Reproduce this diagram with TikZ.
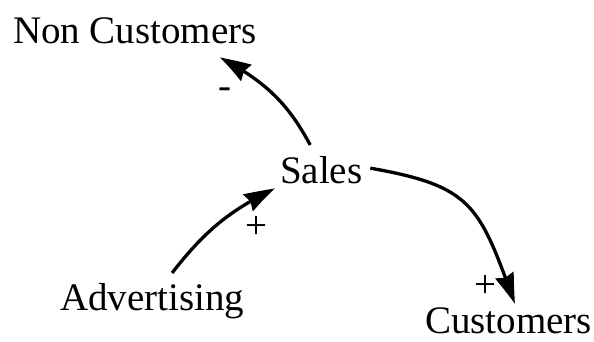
\documentclass[tikz,border=0pt]{standalone}
\usepackage{fontspec}
\setmainfont{Liberation Serif}
\usetikzlibrary{arrows.meta,bending}
\begin{document}
\begin{tikzpicture}[x=1pt,y=1pt,
  lbl/.style={inner sep=0pt, outer sep=0pt, anchor=base west, font=\fontsize{39}{46}\selectfont},
  sign/.style={inner sep=0pt, outer sep=0pt, font=\fontsize{39}{46}\selectfont},
  link/.style={line width=3.3pt, -{Stealth[length=32pt,width=19pt,inset=3pt,bend]}}]
\useasboundingbox (0,0) rectangle (594,341);

% variables
\node[lbl] (non)   at (13,298) {Non Customers};
\node[lbl] (sales) at (280,158) {Sales};
\node[lbl] (adv)   at (60,31)   {Advertising};
\node[lbl] (cust)  at (425,8)   {Customers};

% causal links
\draw[link] ([shift={(-11,11)}]sales.north)
  to[out=118,in=-28] ([shift={(-37,-14)}]non.south east);
\draw[link] ([shift={(20,10)}]adv.north)
  to[out=52,in=-154] ([shift={(-5,-5)}]sales.south west);
\draw[link] ([shift={(8,1.5)}]sales.east)
  to[out=-10,in=110,looseness=1.35] ([shift={(6.5,3.4)}]cust.north);

% polarities
\node[sign] (pneg)  at (225,248) {-};
\node[sign] (padv)  at (256,114) {+};
\node[sign] (pcust) at (485,55)  {+};
\end{tikzpicture}
\end{document}
